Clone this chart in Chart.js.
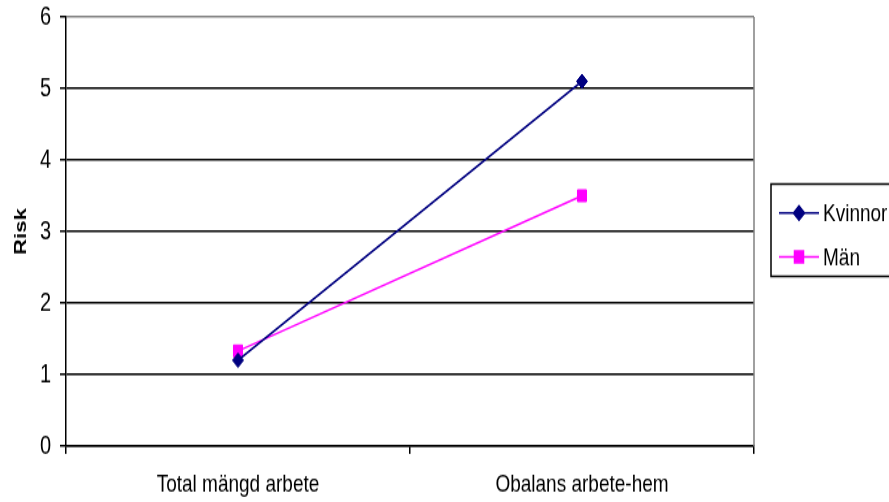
<!DOCTYPE html>
<html>
<head>
<meta charset="utf-8">
<script src="https://cdn.jsdelivr.net/npm/chart.js@4"></script>
<style>
  html, body { margin: 0; padding: 0; background: #fff; overflow: hidden; }
  #c { display: block; width: 889px !important; height: 502px !important; }
</style>
</head>
<body>
<canvas id="c" width="889" height="386" style="width:889px;height:502px"></canvas>
<script>
const categories = ['Total mängd arbete', 'Obalans arbete-hem'];
const kvinnor = [1.2, 5.1];
const man = [1.33, 3.5];
const seriesNames = ['Kvinnor', 'Män'];
const yTicks = [0, 1, 2, 3, 4, 5, 6];
const yTitle = 'Risk';

const FONT = "'Liberation Sans', Arial, sans-serif";

const frame = {
  id: 'frame',
  afterDraw(chart) {
    const { ctx, chartArea } = chart;
    ctx.save();
    // right border of plot area
    ctx.strokeStyle = '#808080';
    ctx.lineWidth = 1.5;
    ctx.beginPath();
    ctx.moveTo(chartArea.right, chartArea.top);
    ctx.lineTo(chartArea.right, chartArea.bottom);
    ctx.stroke();

    // legend
    const bx = 771, by = 141.5, bw = 130, bh = 71;
    ctx.strokeStyle = '#000';
    ctx.lineWidth = 1.5;
    ctx.strokeRect(bx, by, bw, bh);
    const rows = [163.8, 197.5];
    chart.data.datasets.forEach((ds, i) => {
      const y = rows[i];
      ctx.strokeStyle = ds.borderColor;
      ctx.lineWidth = 1.5;
      ctx.beginPath();
      ctx.moveTo(779, y);
      ctx.lineTo(819, y);
      ctx.stroke();
      Chart.helpers.drawPoint(ctx, {
        pointStyle: ds.pointStyle,
        radius: ds.pointRadius,
        rotation: 0,
        borderWidth: 1
      }, 799, y);
      ctx.fillStyle = ds.pointBackgroundColor;
      ctx.strokeStyle = ds.pointBorderColor;
      ctx.fill();
      ctx.fillStyle = '#000';
      ctx.font = '19px ' + FONT;
      ctx.textBaseline = 'middle';
      ctx.textAlign = 'left';
      ctx.fillText(ds.label, 823, y + 1);
    });
    ctx.restore();
  }
};

new Chart(document.getElementById('c'), {
  type: 'line',
  data: {
    labels: categories,
    datasets: [
      {
        label: seriesNames[0],
        data: kvinnor,
        borderColor: '#000080',
        backgroundColor: '#000080',
        pointBackgroundColor: '#000080',
        pointBorderColor: '#000080',
        borderWidth: 1.5,
        pointStyle: 'rectRot',
        pointRadius: 5.5,
        pointBorderWidth: 1,
        tension: 0
      },
      {
        label: seriesNames[1],
        data: man,
        borderColor: '#FF00FF',
        backgroundColor: '#FF00FF',
        pointBackgroundColor: '#FF00FF',
        pointBorderColor: '#FF00FF',
        borderWidth: 1.5,
        pointStyle: 'rect',
        pointRadius: 6.4,
        pointBorderWidth: 1,
        tension: 0
      }
    ]
  },
  options: {
    responsive: false,
    animation: false,
    devicePixelRatio: 1,
    layout: { padding: { top: 13, right: 135, left: 0, bottom: 0 } },
    plugins: {
      legend: { display: false },
      tooltip: { enabled: false }
    },
    scales: {
      x: {
        offset: true,
        grid: {
          offset: true,
          drawOnChartArea: false,
          drawTicks: true,
          tickLength: 6,
          color: '#000',
          lineWidth: 1.5
        },
        border: { color: '#000', width: 1.5 },
        ticks: {
          color: '#000',
          font: { family: FONT, size: 19 },
          padding: 12,
          maxRotation: 0
        },
        afterFit(scale) {
          scale.height = 43;
          scale.paddingLeft = 0; scale.paddingRight = 0;
        }
      },
      y: {
        min: yTicks[0],
        max: yTicks[yTicks.length - 1],
        afterBuildTicks(scale) { scale.ticks = yTicks.map(v => ({ value: v })); },
        grid: {
          color: (c) => (c.tick && c.tick.value === 6 ? '#808080' : '#000'),
          tickColor: '#000',
          lineWidth: 1.5,
          drawTicks: true,
          tickLength: 6
        },
        border: { color: '#000', width: 1.5 },
        ticks: {
          color: '#000',
          font: { family: FONT, size: 20 },
          padding: 9
        },
        title: {
          display: true,
          text: yTitle,
          color: '#000',
          font: { family: FONT, size: 17, weight: 'bold' },
          padding: { top: 11, bottom: 0 }
        },
        afterFit(scale) {
          scale.width = 66;
          scale.paddingTop = 0; scale.paddingBottom = 0;
        }
      }
    }
  },
  plugins: [frame]
});
</script>
</body>
</html>
